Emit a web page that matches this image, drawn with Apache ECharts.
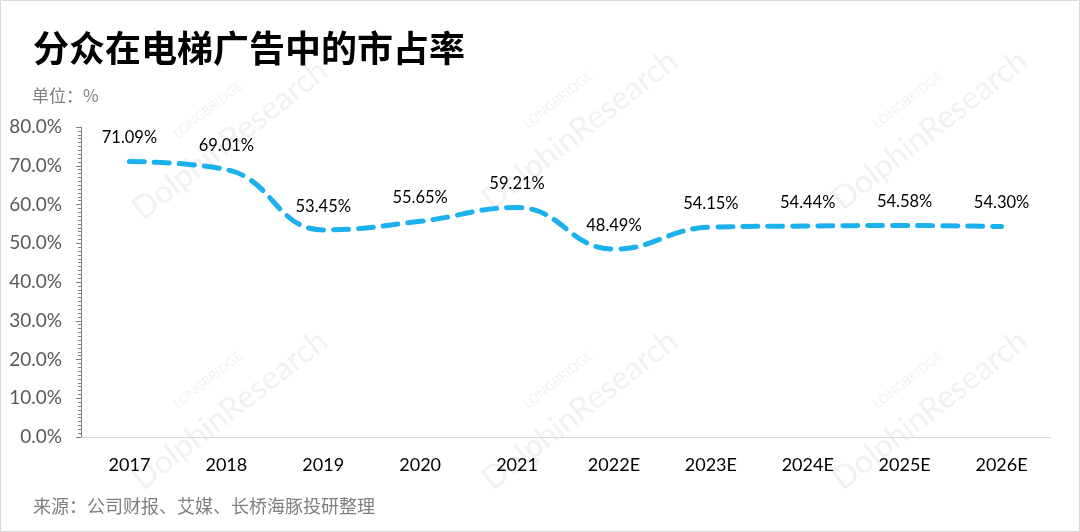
<!DOCTYPE html>
<html><head><meta charset="utf-8">
<script src="https://cdn.jsdelivr.net/npm/echarts@6/dist/echarts.min.js"></script>
<style>html,body{margin:0;padding:0;background:#fff}#c{width:1080px;height:532px}</style>
</head><body><div id="c"></div>
<script>
const titleText = '分众在电梯广告中的市占率';
const unitText = '单位：%';
const sourceText = '来源：公司财报、艾媒、长桥海豚投研整理';
const categories = ['2017','2018','2019','2020','2021','2022E','2023E','2024E','2025E','2026E'];
const shareValues = [71.09, 69.01, 53.45, 55.65, 59.21, 48.49, 54.15, 54.44, 54.58, 54.30];
const yTicks = {min: 0, max: 80, interval: 10};

const numFont = 'Lato, "Noto Sans", sans-serif';
const cjkFont = '"Noto Sans CJK SC", sans-serif';

const wmPos = [[230,140],[580,130],[930,130],[230,410],[580,410],[930,410]];
const watermarks = [];
wmPos.forEach(p => {
  watermarks.push({type:'text', x:p[0], y:p[1], rotation: Math.PI*38/180, z:-1,
    style:{text:'DolphinResearch', fill:'#f1f1f1', font:'32px '+numFont, align:'center', verticalAlign:'middle'}});
  watermarks.push({type:'text', x:p[0]-22, y:p[1]-30, rotation: Math.PI*38/180, z:-1,
    style:{text:'LONGBRIDGE', fill:'#f2f2f2', font:'13px '+numFont, align:'center', verticalAlign:'middle'}});
});

const chart = echarts.init(document.getElementById('c'), null, {renderer:'canvas'});
chart.setOption({
  backgroundColor:'#fff',
  animation:false,
  title:[
    {text:titleText, left:28, top:25, textStyle:{fontFamily:cjkFont, fontSize:36, fontWeight:'bold', color:'#000'}},
    {text:unitText, left:27, top:82, textStyle:{fontFamily:cjkFont, fontSize:17, fontWeight:'normal', color:'#7f7f7f'}},
    {text:sourceText, left:28, top:492, textStyle:{fontFamily:cjkFont, fontSize:18, fontWeight:'normal', color:'#7f7f7f'}}
  ],
  graphic:[
    {type:'rect', shape:{x:0.5,y:0.5,width:1079,height:531}, style:{fill:null, stroke:'#d9d9d9', lineWidth:1}, z:10}
  ].concat(watermarks),
  grid:{left:81, right:30, top:127, bottom:95, containLabel:false},
  xAxis:{
    type:'category', data:categories, boundaryGap:true,
    axisLine:{lineStyle:{color:'#d9d9d9', width:1}},
    axisTick:{show:false},
    axisLabel:{color:'#000', fontFamily:numFont, fontSize:18, margin:19}
  },
  yAxis:{
    type:'value', min:yTicks.min, max:yTicks.max, interval:yTicks.interval,
    axisLine:{show:true, lineStyle:{color:'#7f7f7f', width:1}},
    axisTick:{show:true, inside:false, length:5, lineStyle:{color:'#7f7f7f'}},
    minorTick:{show:true, splitNumber:10, length:3, lineStyle:{color:'#7f7f7f'}},
    splitLine:{show:false},
    axisLabel:{color:'#595959', fontFamily:numFont, fontSize:19, margin:19,
      formatter: v => v.toFixed(1)+'%'}
  },
  series:[{
    type:'line', data:shareValues, smooth:0.45, symbol:'circle', symbolSize:2, showSymbol:true,
    itemStyle:{color:'rgba(0,0,0,0)', borderWidth:0},
    lineStyle:{color:'#1cb0ec', width:5, type:[15,10], cap:'round'},
    label:{show:true, position:'top', distance:14, color:'#000', fontFamily:numFont, fontSize:16.5,
      formatter: p => p.value.toFixed(2)+'%'}
  }]
});
</script></body></html>
